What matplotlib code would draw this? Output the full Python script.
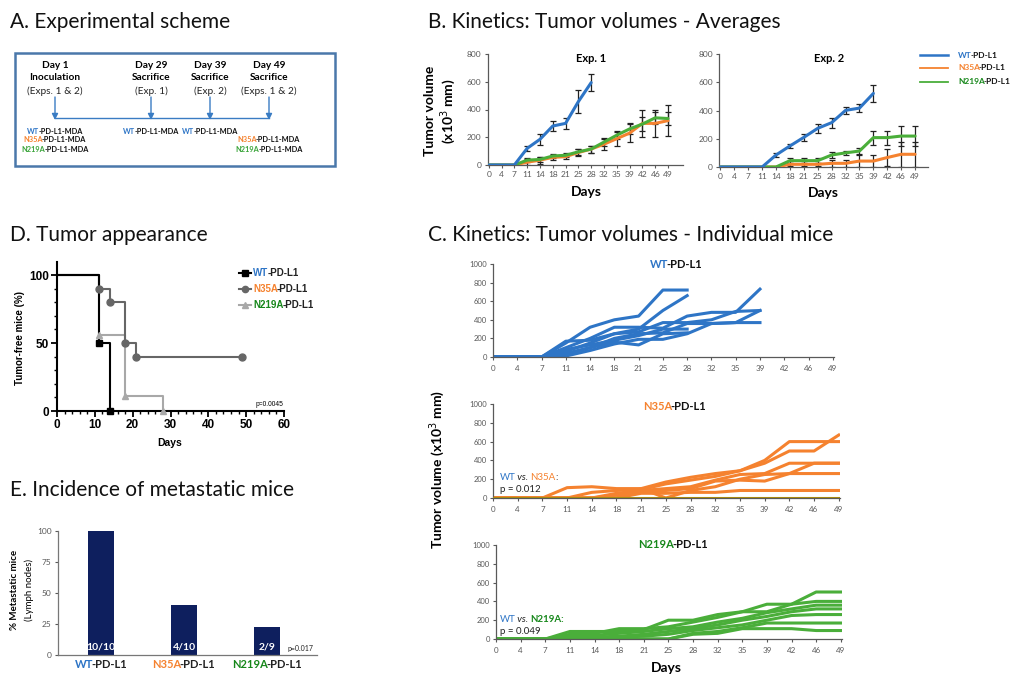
import numpy as np
import matplotlib
matplotlib.use('Agg')
import matplotlib.pyplot as plt
from matplotlib.ticker import MultipleLocator

nan = np.nan

# ---------------- DATA ----------------
days = [0, 4, 7, 11, 14, 18, 21, 25, 28, 32, 35, 39, 42, 46, 49]
groups = ['WT', 'N35A', 'N219A']

# B. averages, Exp. 1
exp1_wt = [0, 0, 0, 120, 185, 281, 300, 457, 594, nan, nan, nan, nan, nan, nan]
exp1_wt_err = [0, 0, 0, 20, 40, 35, 40, 80, 60, nan, nan, nan, nan, nan, nan]
exp1_n35 = [0, 0, 0, 20, 35, 55, 60, 90, 115, 150, 190, 230, 300, 300, 320]
exp1_n35_err = [0, 0, 0, 20, 25, 20, 15, 25, 25, 40, 50, 65, 95, 95, 110]
exp1_n219 = [0, 0, 0, 35, 40, 65, 70, 95, 115, 165, 215, 260, 295, 340, 335]
exp1_n219_err = [0, 0, 0, 15, 15, 15, 15, 20, 25, 30, 30, 40, 50, 45, 50]

# B. averages, Exp. 2
exp2_wt = [0, 0, 0, 0, 85, 149, 210, 274, 314, 401, 417, 521, nan, nan, nan]
exp2_wt_err = [0, 0, 0, 0, 15, 15, 25, 30, 35, 25, 30, 60, nan, nan, nan]
exp2_n35 = [0, 0, 0, 0, 0, 19, 19, 19, 26, 26, 42, 42, 67, 90, 90]
exp2_n35_err = [0, 0, 0, 0, 0, 10, 10, 10, 25, 25, 40, 45, 60, 90, 90]
exp2_n219 = [0, 0, 0, 0, 0, 45, 45, 45, 85, 100, 113, 208, 208, 219, 219]
exp2_n219_err = [0, 0, 0, 0, 0, 20, 20, 20, 20, 15, 20, 50, 50, 70, 70]

# C. individual mice
wt_mice = [
    [0, 0, 0, 150, 320, 400, 440, 720, 720, nan, nan, nan, nan, nan, nan],
    [0, 0, 0, 170, 180, 250, 300, 500, 660, nan, nan, nan, nan, nan, nan],
    [0, 0, 0, 100, 200, 320, 320, 310, 440, 480, 480, 730, nan, nan, nan],
    [0, 0, 0, 60, 150, 250, 270, 370, 370, 400, 490, 500, nan, nan, nan],
    [0, 0, 0, 30, 100, 200, 250, 260, 360, 360, 370, 500, nan, nan, nan],
    [0, 0, 0, 10, 70, 140, 190, 190, 250, 360, 370, 370, nan, nan, nan],
    [0, 0, 0, 80, 130, 180, 230, 300, 300, nan, nan, nan, nan, nan, nan],
    [0, 0, 0, 40, 100, 160, 130, 250, 260, nan, nan, nan, nan, nan, nan],
]
n35_mice = [
    [0, 0, 0, 110, 120, 100, 100, 170, 220, 260, 290, 400, 600, 600, 600],
    [0, 0, 0, 0, 60, 80, 90, 150, 190, 230, 290, 370, 500, 500, 670],
    [0, 0, 0, 0, 0, 50, 80, 100, 120, 190, 250, 260, 370, 370, 370],
    [0, 0, 0, 0, 0, 0, 100, 0, 80, 120, 200, 250, 260, 260, 260],
    [0, 0, 0, 0, 0, 30, 60, 80, 100, 180, 190, 180, 260, 370, 370],
    [0, 0, 0, 0, 0, 0, 50, 50, 60, 60, 80, 80, 80, 80, 80],
]
n35_zero = [0] * 15
n219_mice = [
    [0, 0, 0, 80, 80, 80, 100, 200, 200, 260, 290, 290, 370, 500, 500],
    [0, 0, 0, 50, 60, 110, 110, 130, 180, 230, 290, 370, 370, 400, 400],
    [0, 0, 0, 30, 40, 60, 80, 110, 130, 180, 220, 280, 320, 360, 360],
    [0, 0, 0, 20, 20, 30, 50, 80, 110, 150, 200, 240, 290, 320, 320],
    [0, 0, 0, 0, 0, 20, 30, 50, 90, 120, 150, 200, 250, 260, 260],
    [0, 0, 0, 0, 0, 0, 0, 0, 60, 80, 120, 170, 170, 170, 170],
    [0, 0, 0, 0, 0, 0, 0, 0, 50, 60, 110, 110, 110, 90, 90],
]

# D. tumor appearance (Kaplan-Meier style)
km_wt_t = [0, 11, 14]
km_wt_s = [100, 50, 0]
km_n35_t = [0, 11, 14, 18, 21, 49]
km_n35_s = [100, 90, 80, 50, 40, 40]
km_n219_t = [0, 11, 18, 28]
km_n219_s = [100, 55.6, 11.1, 0]

# E. metastatic incidence
e_values = [100, 40, 22.2]
e_counts = ['10/10', '4/10', '2/9']

# ---------------- STYLE ----------------
BLUE = '#2e75c6'
ORANGE = '#f5822f'
GREEN = '#4aae3a'
DGREEN = '#16871a'
NAVY = '#0e1f5e'
GRAY = '#595959'
TXT_COLOR = {'WT': BLUE, 'N35A': ORANGE, 'N219A': DGREEN}

plt.rcParams['font.family'] = ['Lato', 'DejaVu Sans']

W, H = 1015, 675
fig = plt.figure(figsize=(W / 100, H / 100), dpi=100)


def add_ax(x0, top, w, h):
    return fig.add_axes([x0 / W, (H - top - h) / H, w / W, h / H])


ov = fig.add_axes([0, 0, 1, 1])
ov.set_xlim(0, W)
ov.set_ylim(H, 0)
ov.axis('off')
ov.set_zorder(10)


def ctext(x, y, parts, size, ha='center', va='center', family=None, tight=0.22):
    texts = []
    t = None
    gap = -tight * size
    for p in parts:
        s, c = p[0], p[1]
        weight = p[2] if len(p) > 2 else 'bold'
        style = p[3] if len(p) > 3 else 'normal'
        kw = dict(fontsize=size, fontweight=weight, fontstyle=style, color=c)
        if family:
            kw['family'] = family
        if t is None:
            t = ov.text(x, y, s, ha='left', va=va, **kw)
        else:
            t = ov.annotate(s, xy=(1, 0), xycoords=t, xytext=(gap, 0),
                            textcoords='offset pixels', ha='left', va='bottom', **kw)
        texts.append(t)
    if ha != 'left':
        r = fig.canvas.get_renderer()
        total = sum(tt.get_window_extent(r).width for tt in texts) + gap * (len(texts) - 1)
        shift = total / 2 if ha == 'center' else total
        texts[0].set_x(x - shift)
    return texts


def title(x, y, s):
    ov.text(x, y, s, fontsize=15, ha='left', va='center', color='#111111')


title(10, 22, 'A. Experimental scheme')
title(428, 22, 'B. Kinetics: Tumor volumes - Averages')
title(10, 235, 'D. Tumor appearance')
title(428, 235, 'C. Kinetics: Tumor volumes - Individual mice')
title(10, 490, 'E. Incidence of metastatic mice')

# ---------------- A. scheme ----------------
ov.add_patch(plt.Rectangle((15, 53), 320, 113, fill=False, ec='#4a78aa', lw=1.8))
SCH = '#3a7cc3'
cols = [55, 151, 210, 269]
heads = [('Day 1', 'Inoculation', '(Exps. 1 & 2)'), ('Day 29', 'Sacrifice', '(Exp. 1)'),
         ('Day 39', 'Sacrifice', '(Exp. 2)'), ('Day 49', 'Sacrifice', '(Exps. 1 & 2)')]
for cx, (d, s, e) in zip(cols, heads):
    ov.text(cx, 65, d, fontsize=7.3, fontweight='bold', ha='center', va='center')
    ov.text(cx, 77, s, fontsize=7.3, fontweight='bold', ha='center', va='center')
    ov.text(cx, 91, e, fontsize=7.3, ha='center', va='center', color='#222222')
    ov.annotate('', xy=(cx, 120), xytext=(cx, 97),
                arrowprops=dict(arrowstyle='-|>', color=SCH, lw=1.0, mutation_scale=9,
                                shrinkA=0, shrinkB=0))
ov.plot([cols[0], cols[-1]], [118, 118], color=SCH, lw=1.0)
lab_rows = {'WT': 131, 'N35A': 140, 'N219A': 149}
scheme_labels = [(cols[0], ['WT', 'N35A', 'N219A']), (cols[1], ['WT']), (cols[2], ['WT']),
                 (cols[3], ['N35A', 'N219A'])]
for cx, gl in scheme_labels:
    for g in gl:
        ctext(cx, lab_rows[g], [(g, TXT_COLOR[g] if g != 'N219A' else '#3aa43a'),
                                ('-PD-L1-MDA', '#111111')], 5.3)

# ---------------- B. averages ----------------
xi = np.arange(len(days))


def style_excel(ax, ymax, ystep, xmax):
    ax.set_xlim(-0.08 if xmax > 14.5 else -0.05, xmax)
    ax.set_ylim(0, ymax)
    ax.set_xticks(xi)
    ax.set_xticklabels([str(d) for d in days])
    ax.set_yticks(np.arange(0, ymax + 1, ystep))
    for s in ['top', 'right']:
        ax.spines[s].set_visible(False)
    for s in ['left', 'bottom']:
        ax.spines[s].set_color(GRAY)
        ax.spines[s].set_linewidth(0.9)
    ax.tick_params(labelsize=6, colors=GRAY, length=2.5, width=0.8, pad=2)
    ax.set_facecolor('none')


def plot_avg(ax, series):
    for y, e, c in series:
        y = np.array(y, float)
        e = np.array(e, float)
        m = np.nan_to_num(e) > 0
        ax.errorbar(xi[m], y[m], yerr=e[m], fmt='none', ecolor='#222222', elinewidth=0.9,
                    capsize=2.5, capthick=0.9, zorder=2)
    for y, e, c in series:
        ax.plot(xi, y, color=c, lw=2.2, zorder=3, solid_capstyle='round')


ax1 = add_ax(487.7, 54, 195.7, 111)
style_excel(ax1, 800, 200, 15.2)
plot_avg(ax1, [(exp1_n35, exp1_n35_err, ORANGE), (exp1_n219, exp1_n219_err, GREEN),
               (exp1_wt, exp1_wt_err, BLUE)])
ax2 = add_ax(719.3, 54, 208.3, 113)
style_excel(ax2, 800, 200, 14.9)
plot_avg(ax2, [(exp2_n35, exp2_n35_err, ORANGE), (exp2_n219, exp2_n219_err, GREEN),
               (exp2_wt, exp2_wt_err, BLUE)])

ov.text(591, 58, 'Exp. 1', fontsize=8, fontweight='bold', ha='center', va='center')
ov.text(829, 58, 'Exp. 2', fontsize=8, fontweight='bold', ha='center', va='center')
ov.text(441, 111, 'Tumor volume\n(x10$^3$ mm)', fontsize=10, fontweight='bold', rotation=90,
        ha='center', va='center', linespacing=1.1)
ov.text(586, 192, 'Days', fontsize=10, fontweight='bold', ha='center', va='center')
ov.text(823, 193, 'Days', fontsize=10, fontweight='bold', ha='center', va='center')

for yy, g, c in [(55, 'WT', BLUE), (68, 'N35A', ORANGE), (82, 'N219A', GREEN)]:
    ov.plot([920, 948], [yy, yy], color=c, lw=1.8 if g == 'WT' else 1.3)
    ctext(958, yy, [(g, TXT_COLOR[g]), ('-PD-L1', '#111111')], 6.0, ha='left')

# ---------------- C. individual ----------------
def plot_ind(ax, mice, color):
    for m in mice:
        ax.plot(xi, m, color=color, lw=2.2, solid_joinstyle='round')


cA = add_ax(493, 264, 341, 93)
style_excel(cA, 1000, 200, 14.05)
cA.set_xlim(0, 14.05)
plot_ind(cA, wt_mice, BLUE)

cB = add_ax(493, 404, 347, 94)
style_excel(cB, 1000, 200, 14.05)
cB.set_xlim(0, 14.05)
plot_ind(cB, n35_mice, ORANGE)
cB.plot(xi, n35_zero, color='#a68a12', lw=2.2, zorder=3)

cC = add_ax(496, 545, 346, 94)
style_excel(cC, 1000, 200, 14.05)
cC.set_xlim(0, 14.05)
plot_ind(cC, n219_mice, GREEN)
for a in (cA, cB, cC):
    for lab in a.get_yticklabels():
        lab.set_fontsize(5.5)
    a.tick_params(axis='x', labelsize=5.8, pad=3)

ctext(676, 265, [('WT', BLUE), ('-PD-L1', '#111111')], 8)
ctext(675, 406, [('N35A', ORANGE), ('-PD-L1', '#111111')], 8)
ctext(673, 545, [('N219A', DGREEN), ('-PD-L1', '#111111')], 8)
ctext(500, 477, [('WT', BLUE, 'normal'), (' vs. ', '#222222', 'normal', 'italic'),
                 ('N35A', ORANGE, 'normal'), (':', '#222222', 'normal')], 7, ha='left',
      tight=0.05)
ov.text(500, 489, 'p = 0.012', fontsize=7, color='#222222', ha='left', va='center')
ctext(500, 620, [('WT', BLUE, 'normal'), (' vs. ', '#222222', 'normal', 'italic'),
                 ('N219A:', DGREEN, 'bold')], 7, ha='left', tight=0.05)
ov.text(500, 632, 'p = 0.049', fontsize=7, color='#222222', ha='left', va='center')
ov.text(437, 470, 'Tumor volume (x10$^3$ mm)', fontsize=10, fontweight='bold', rotation=90,
        ha='center', va='center')
ov.text(666, 668, 'Days', fontsize=10, fontweight='bold', ha='center', va='center')

# ---------------- D. tumor appearance ----------------
dax = add_ax(57, 262, 227, 149)
AR = 'Liberation Sans'
kms = [(km_wt_t, km_wt_s, 'black', 's', 'WT'),
       (km_n35_t, km_n35_s, '#666666', 'o', 'N35A'),
       (km_n219_t, km_n219_s, '#a8a8a8', '^', 'N219A')]
for t, s, c, mk, g in kms[::-1]:
    dax.step(t, s, where='post', color=c, lw=1.5, zorder=2)
    dax.plot(t[1:], s[1:], ls='none', marker=mk, color=c, ms=5, zorder=3, clip_on=False)
dax.set_xlim(0, 60)
dax.set_ylim(0, 109.6)
dax.set_xticks(range(0, 61, 10))
dax.set_yticks([0, 50, 100])
dax.xaxis.set_minor_locator(MultipleLocator(2))
dax.yaxis.set_minor_locator(MultipleLocator(10))
for s in ['top', 'right']:
    dax.spines[s].set_visible(False)
for s in ['left', 'bottom']:
    dax.spines[s].set_linewidth(1.5)
dax.tick_params(which='major', length=4, width=1.3, labelsize=8.5, pad=2)
dax.tick_params(which='minor', length=2.5, width=1.0)
for lab in dax.get_xticklabels() + dax.get_yticklabels():
    lab.set_fontweight('bold')
    lab.set_family(AR)
dax.set_facecolor('none')
ov.text(20, 338, 'Tumor-free mice (%)', fontsize=7, fontweight='bold', family=AR,
        rotation=90, ha='center', va='center')
ov.text(170, 443, 'Days', fontsize=7.5, fontweight='bold', family=AR, ha='center', va='center')
ov.text(269, 404, 'p=0.0045', fontsize=4.8, family=AR, ha='center', va='center')
for yy, (t, s, c, mk, g) in zip([273, 289, 305], kms):
    ov.plot([239, 251], [yy, yy], color=c, lw=1.5)
    ov.plot([245], [yy], marker=mk, color=c, ms=4.5)
    ctext(253, yy, [(g, TXT_COLOR[g]), ('-PD-L1', '#222222')], 7, ha='left', family=AR,
          tight=0.12)

# ---------------- E. metastatic ----------------
eax = add_ax(58, 531, 259, 124)
xe = np.arange(len(groups))
eax.bar(xe, e_values, width=0.31, color=NAVY)
eax.set_xlim(-0.52, 2.6)
eax.set_ylim(0, 100)
eax.set_yticks([0, 25, 50, 75, 100])
eax.set_xticks([])
for s in ['top', 'right']:
    eax.spines[s].set_visible(False)
for s in ['left', 'bottom']:
    eax.spines[s].set_color('#777777')
    eax.spines[s].set_linewidth(0.9)
eax.tick_params(labelsize=6, colors=GRAY, length=2.5, width=0.8, pad=2)
eax.set_facecolor('none')
for xv, lab in zip(xe, e_counts):
    eax.text(xv, 2.5, lab, color='white', fontsize=7.5, fontweight='bold', ha='center',
             va='bottom')
ov.text(300, 648, 'p=0.017', fontsize=5, color='#222222', ha='center', va='center')
for cx, g in zip([101, 184, 267], groups):
    ctext(cx, 665, [(g, TXT_COLOR[g]), ('-PD-L1', '#222222')], 8)
ov.text(15, 590, '% Metastatic mice', fontsize=7, fontweight='bold', rotation=90,
        ha='center', va='center')
ov.text(29, 590, '(Lymph nodes)', fontsize=7, rotation=90, ha='center', va='center')

fig.savefig('out.png', dpi=100)
